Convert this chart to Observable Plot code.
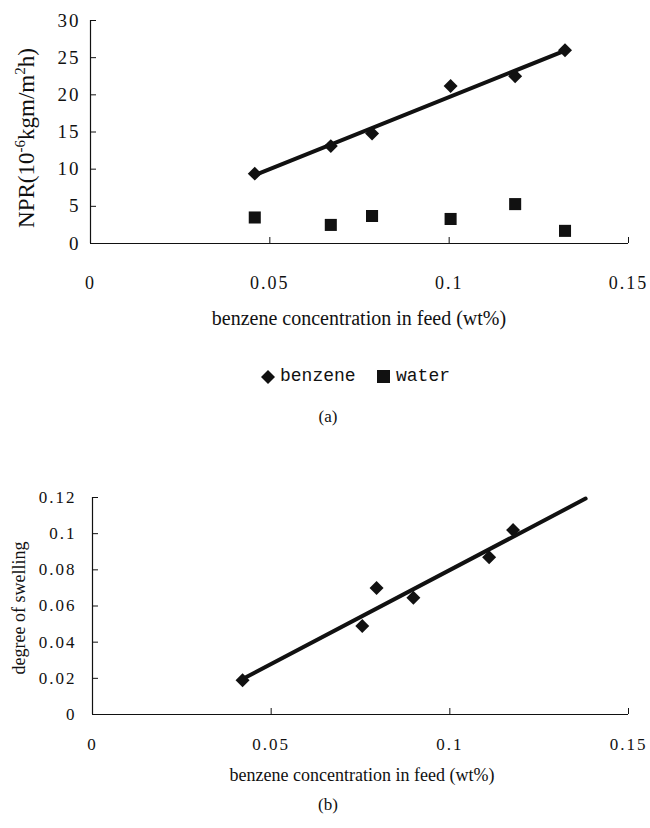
<!DOCTYPE html>
<html><head><meta charset="utf-8">
<script src="https://cdn.jsdelivr.net/npm/d3@7"></script>
<script src="https://cdn.jsdelivr.net/npm/@observablehq/plot@0.6"></script>
<style>
body{margin:0;background:#fff;}
#wrap{position:relative;width:650px;height:828px;font-family:"Liberation Serif",serif;color:#111;overflow:hidden;}
.abs{position:absolute;}
#legend{top:366px;left:0;width:650px;height:22px;font-family:"Liberation Mono",monospace;font-size:18px;}
.cap{font-size:17px;width:60px;text-align:center;}
#wrap svg g[aria-label$="tick label"] text{font-family:"Liberation Serif",serif !important;letter-spacing:2px;}
</style></head><body><div id="wrap"></div>
<script>
// ---- data (a) ----
const concA = [0.0458, 0.067, 0.0785, 0.1004, 0.1184, 0.1323];
const benzeneNPR = [9.4, 13.1, 14.8, 21.2, 22.5, 26.0];
const waterNPR = [3.5, 2.5, 3.7, 3.3, 5.3, 1.7];
const xTicks = [0, 0.05, 0.1, 0.15];
const yTicksA = [0, 5, 10, 15, 20, 25, 30];
const legendLabels = ["benzene", "water"];
// ---- data (b) ----
const concB = [0.042, 0.0755, 0.0795, 0.0898, 0.111, 0.1177];
const swelling = [0.019, 0.049, 0.070, 0.0645, 0.087, 0.102];
const swellFitX = [0.042, 0.138];
const yTicksB = [0, 0.02, 0.04, 0.06, 0.08, 0.1, 0.12];

const ink = "#111";
const serif = "Liberation Serif, serif";
function fit(xs, ys) {
  const mx = d3.mean(xs), my = d3.mean(ys);
  const b = d3.sum(xs, (x, i) => (x - mx) * (ys[i] - my)) / d3.sum(xs, x => (x - mx) ** 2);
  return x => my + b * (x - mx);
}
const wrap = document.getElementById("wrap");

// ---------- chart (a) ----------
const benzRows = concA.map((x, i) => ({x, y: benzeneNPR[i]}));
const waterRows = concA.map((x, i) => ({x, y: waterNPR[i]}));
const fA = fit(concA, benzeneNPR);
const fitA = d3.extent(concA).map(x => ({x, y: fA(x)}));

const plotA = Plot.plot({
  width: 650, height: 345,
  marginTop: 20, marginRight: 22, marginBottom: 102, marginLeft: 90,
  style: {fontFamily: serif, fontSize: "17px", color: ink, background: "#fff", overflow: "visible"},
  x: {domain: [0, 0.15]},
  y: {domain: [0, 30]},
  marks: [
    Plot.ruleY([0], {stroke: ink, strokeWidth: 1.2}),
    Plot.ruleX([0], {stroke: ink, strokeWidth: 1.2}),
    Plot.axisX({ticks: xTicks, tickSize: -6, tickPadding: 39, tickFormat: String, label: null, stroke: ink, fontFamily: serif, fontSize: 18}),
    Plot.axisY({ticks: yTicksA, tickSize: -6, tickPadding: 16, tickFormat: String, label: null, stroke: ink, fontFamily: serif, fontSize: 19}),
    Plot.line(fitA, {x: "x", y: "y", stroke: ink, strokeWidth: 4}),
    Plot.dot(benzRows, {x: "x", y: "y", symbol: "diamond2", r: 6.3, fill: ink}),
    Plot.dot(waterRows, {x: "x", y: "y", symbol: "square", r: 6.8, fill: ink})
  ]
});
plotA.style.position = "absolute"; plotA.style.left = "0px"; plotA.style.top = "0px";
wrap.appendChild(plotA);
{
  const s = d3.select(plotA);
  s.append("text").attr("x", 359).attr("y", 325).attr("text-anchor", "middle").attr("font-family", serif)
    .attr("font-size", 20).attr("fill", ink).text("benzene concentration in feed (wt%)");
  const t = s.append("text").attr("transform", "translate(34,138) rotate(-90)").attr("font-family", serif)
    .attr("text-anchor", "middle").attr("font-size", 23).attr("fill", ink);
  t.append("tspan").text("NPR(10");
  t.append("tspan").attr("font-size", 15).attr("dy", -9).text("-6");
  t.append("tspan").attr("dy", 9).text("kgm/m");
  t.append("tspan").attr("font-size", 15).attr("dy", -9).text("2");
  t.append("tspan").attr("dy", 9).text("h)");
}

// legend
const legend = document.createElement("div");
legend.id = "legend"; legend.className = "abs";
legend.innerHTML =
  `<svg class="abs" style="left:261px;top:4px" width="14" height="14"><path d="M7 0 L14 7 L7 14 L0 7Z" fill="${ink}"/></svg>` +
  `<span class="abs" style="left:280px;top:0">${legendLabels[0]}</span>` +
  `<svg class="abs" style="left:377px;top:4px" width="13" height="13"><rect width="13" height="13" fill="${ink}"/></svg>` +
  `<span class="abs" style="left:396px;top:0">${legendLabels[1]}</span>`;
wrap.appendChild(legend);

const capA = document.createElement("div");
capA.className = "abs cap"; capA.style.left = "298px"; capA.style.top = "407px"; capA.textContent = "(a)";
wrap.appendChild(capA);

// ---------- chart (b) ----------
const swellRows = concB.map((x, i) => ({x, y: swelling[i]}));
const fB = fit(concB, swelling);
const fitB = swellFitX.map(x => ({x, y: fB(x)}));

const plotB = Plot.plot({
  width: 650, height: 320,
  marginTop: 27, marginRight: 22, marginBottom: 76, marginLeft: 92,
  style: {fontFamily: serif, fontSize: "16px", color: ink, background: "#fff", overflow: "visible"},
  x: {domain: [0, 0.15]},
  y: {domain: [0, 0.12]},
  marks: [
    Plot.ruleY([0], {stroke: ink, strokeWidth: 1.2}),
    Plot.ruleX([0], {stroke: ink, strokeWidth: 1.2}),
    Plot.axisX({ticks: xTicks, tickSize: -6, tickPadding: 29, tickFormat: String, label: null, stroke: ink, fontFamily: serif, fontSize: 17}),
    Plot.axisY({ticks: yTicksB, tickSize: -6, tickPadding: 22, tickFormat: String, label: null, stroke: ink, fontFamily: serif, fontSize: 17}),
    Plot.line(fitB, {x: "x", y: "y", stroke: ink, strokeWidth: 4}),
    Plot.dot(swellRows, {x: "x", y: "y", symbol: "diamond2", r: 6.3, fill: ink})
  ]
});
plotB.style.position = "absolute"; plotB.style.left = "0px"; plotB.style.top = "470px";
wrap.appendChild(plotB);
{
  const s = d3.select(plotB);
  s.append("text").attr("x", 362).attr("y", 311).attr("text-anchor", "middle").attr("font-family", serif)
    .attr("font-size", 18).attr("fill", ink).text("benzene concentration in feed (wt%)");
  s.append("text").attr("transform", "translate(25,138) rotate(-90)").attr("font-family", serif)
    .attr("text-anchor", "middle").attr("font-size", 18).attr("fill", ink).text("degree of swelling");
}

const capB = document.createElement("div");
capB.className = "abs cap"; capB.style.left = "298px"; capB.style.top = "795px"; capB.textContent = "(b)";
wrap.appendChild(capB);
</script>
</body></html>
